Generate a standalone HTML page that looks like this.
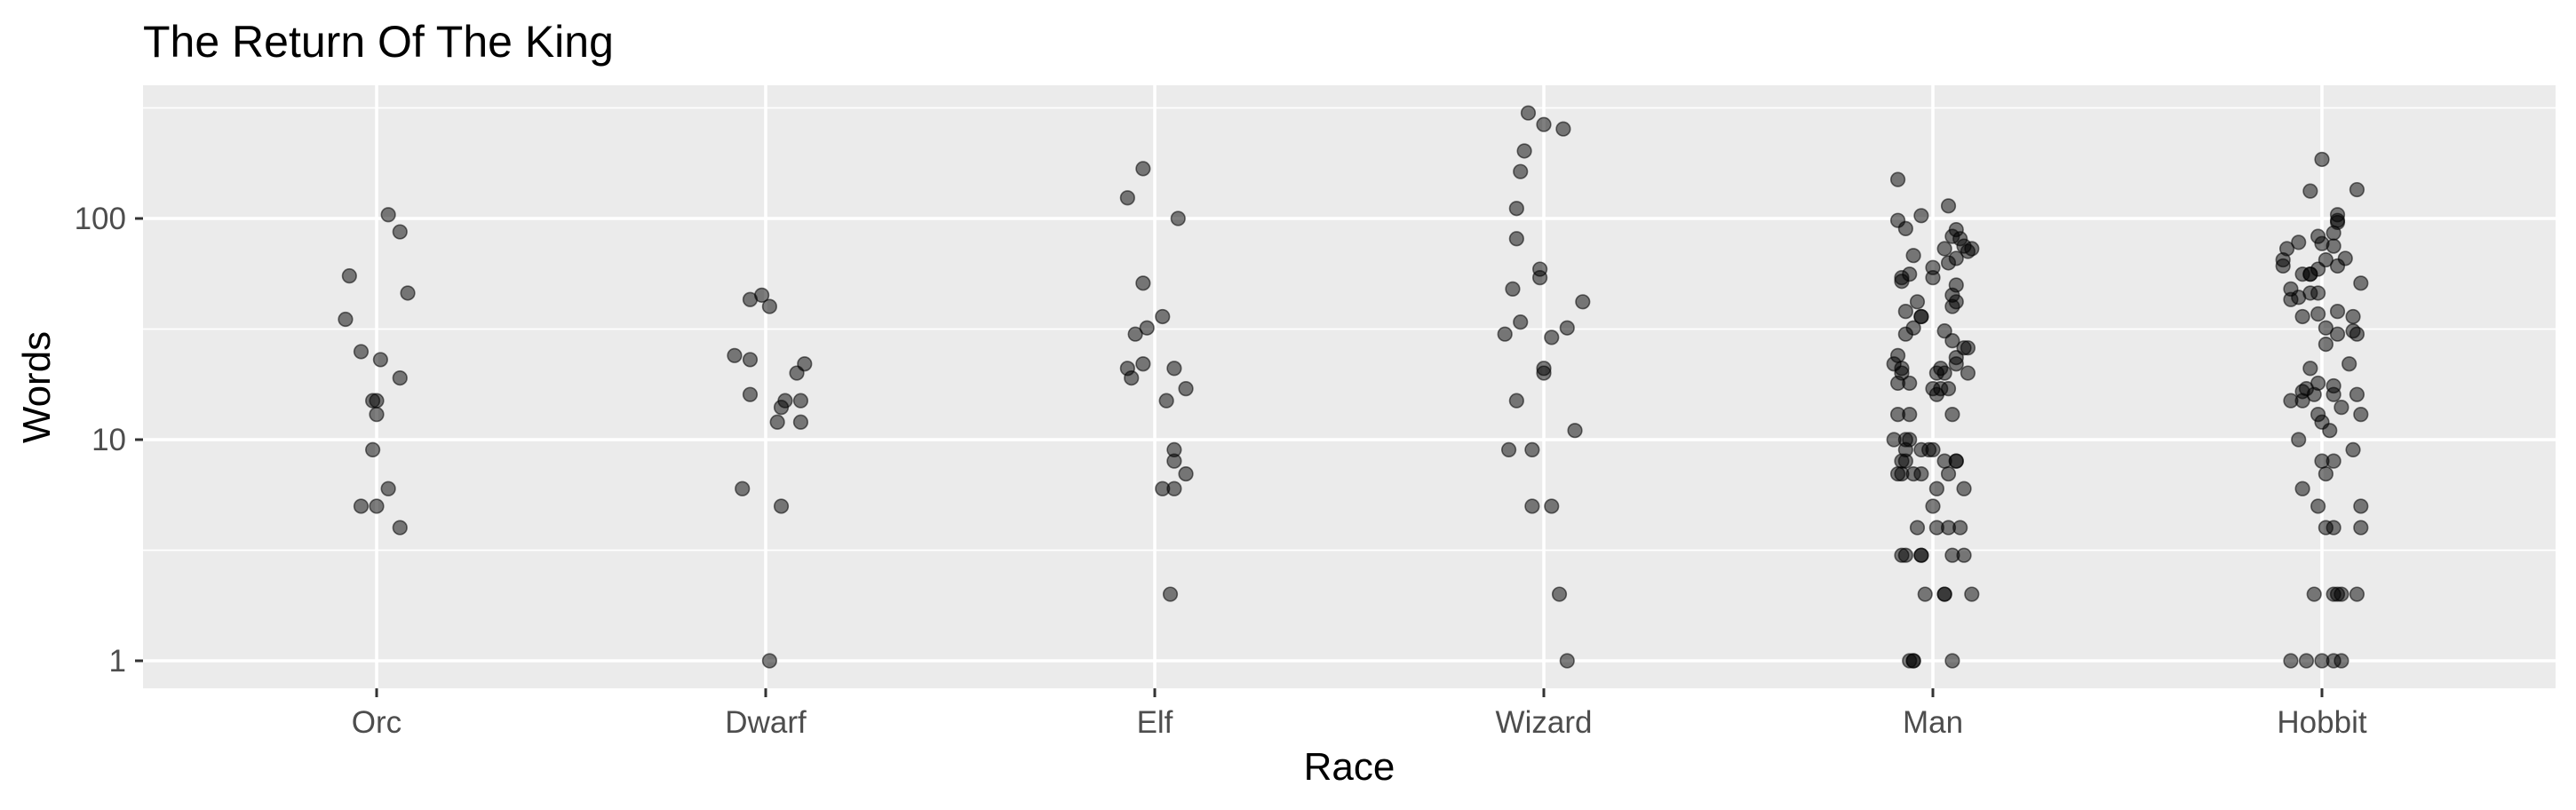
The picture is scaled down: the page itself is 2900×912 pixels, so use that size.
<!DOCTYPE html>
<html><head><meta charset="utf-8"><style>
html,body{margin:0;padding:0;background:#fff;}
svg{display:block;font-family:"Liberation Sans",Arial,sans-serif;}
</style></head><body>
<svg id="chart" width="2900" height="912" viewBox="0 0 2900 912">
<text x="161" y="64" font-size="50" fill="#000">The Return Of The King</text>
<rect x="161" y="96" width="2716" height="679" fill="#EBEBEB"/>
<g id="grid"></g>
<g id="points"></g>
<g id="axes"></g>
<text x="1519" y="878" font-size="44" text-anchor="middle" fill="#000">Race</text>
<text transform="translate(56,436) rotate(-90)" font-size="44" text-anchor="middle" fill="#000">Words</text>
</svg>
<script>
const categories = ["Orc","Dwarf","Elf","Wizard","Man","Hobbit"];
const yTicks = [1,10,100];
const yTickLabels = ["1","10","100"];
const orcWords = [104,87,55,46,35,25,23,19,15,15,13,9,6,5,5,4];
const orcJitter = [3,6,-7,8,-8,-4,1,6,-1,0,0,-1,3,-4,0,6];
const dwarfWords = [45,43,40,24,23,22,20,16,15,15,14,12,12,6,5,1];
const dwarfJitter = [-1,-4,1,-8,-4,10,8,-4,5,9,4,3,9,-6,4,1];
const elfWords = [168,124,100,51,36,32,30,22,21,21,19,17,15,9,8,7,6,6,2];
const elfJitter = [-3,-7,6,-3,2,-2,-5,-3,-7,5,-6,8,3,5,5,8,2,5,4];
const wizardWords = [300,266,254,202,163,111,81,59,54,48,42,34,32,30,29,21,20,15,11,9,9,5,5,2,1];
const wizardJitter = [-4,0,5,-5,-6,-7,-7,-1,-1,-8,10,-6,6,-10,2,0,0,-7,8,-9,-3,-3,2,4,6];
const manWords = [150,114,103,98,90,89,83,81,75,73,71,73,68,66,63,60,56,54,52,54,50,45,42,40,42,38,36,36,32,30,31,28,26,26,24,22,23.5,22,21,20,20,21,20,20,18,18,16,17,17,17,13,13,13,10,10,10,9,9,9,9,8,8,8,8,8,7,7,7,7,7,6,6,5,4,4,4,4,3,3,3,3,3,3,2,2,2,2,1,1,1,1];
const manJitter = [-9,4,-3,-9,-7,6,5,7,8,10,9,3,-5,6,4,0,-6,-8,-8,0,6,5,6,5,-4,-7,-3,-3,-5,-7,3,5,8,9,-9,-10,6,6,-8,-8,9,2,1,3,-9,-6,1,2,4,0,-9,-6,5,-10,-7,-6,-7,-3,-1,0,-8,-7,3,6,6,-9,-8,-5,-3,4,1,8,0,-4,1,4,7,-8,-7,-3,-3,5,8,-2,3,3,10,-6,-5,-5,5];
const hobbitWords = [185,133,135,104,98,96,86,83,77,75,78,73,65,61,65,66,61,59,56,56,56,51,48,43,44,46,46,36,37,38,36,32,30,31,30,27,22,21,18,17,17.5,16.5,16,16,16,15,15,14,13,13,12,11,10,9,8,8,7,6,5,5,4,4,4,2,2,2,2,2,1,1,1,1,1];
const hobbitJitter = [0,-3,9,4,4,4,3,-1,0,3,-6,-9,-10,-10,1,6,4,-1,-5,-3,-3,10,-8,-8,-6,-3,-1,-5,-1,4,8,1,4,8,9,1,7,-3,-1,-4,3,-5,-2,3,9,-8,-5,5,-1,10,0,2,-6,8,0,3,1,-5,-1,10,1,3,10,-2,3,4,5,9,-8,-4,0,3,5];

const groupWords = [orcWords,dwarfWords,elfWords,wizardWords,manWords,hobbitWords];
const groupJitter = [orcJitter,dwarfJitter,elfJitter,wizardJitter,manJitter,hobbitJitter];

const NS = "http://www.w3.org/2000/svg";
const PL = 161, PR = 2877, PT = 96, PB = 775;
const X0 = 424, BAND = 438;
function xScale(i){ return X0 + i*BAND; }
function yScale(v){ return 744 - Math.log10(v)*249; }
function mk(tag, attrs, parent){ const e=document.createElementNS(NS,tag); for(const k in attrs) e.setAttribute(k,attrs[k]); parent.appendChild(e); return e; }

const grid = document.getElementById('grid');
[0.5,1.5,2.5].forEach(p=>{
  const y = yScale(Math.pow(10,p));
  const l = mk('line',{x1:PL,x2:PR,y1:y,y2:y,stroke:'#fff','stroke-width':1.8},grid);
  
  
});
yTicks.forEach(v=>{
  const y = yScale(v);
  const l = mk('line',{x1:PL,x2:PR,y1:y,y2:y,stroke:'#fff','stroke-width':3.6},grid);
  
  
});
categories.forEach((c,i)=>{
  const x = xScale(i);
  const l = mk('line',{x1:x,x2:x,y1:PT,y2:PB,stroke:'#fff','stroke-width':3.6},grid);
  
  
});

const pts = document.getElementById('points');
groupWords.forEach((arr,gi)=>{
  arr.forEach((v,j)=>{
    const cx = xScale(gi) + groupJitter[gi][j]/100*BAND;
    const c = mk('circle',{cx:cx,cy:yScale(v),r:7.8,fill:'rgba(0,0,0,0.5)',stroke:'rgba(0,0,0,0.55)','stroke-width':1.6},pts);
    
    
  });
});

const axes = document.getElementById('axes');
yTicks.forEach((v,i)=>{
  const y = yScale(v);
  const t = mk('line',{x1:152,x2:161,y1:y,y2:y,stroke:'#333','stroke-width':3},axes);
  
  
  const lb = mk('text',{x:142,y:y+12,'font-size':35,'text-anchor':'end',fill:'#4D4D4D'},axes);
  lb.textContent = yTickLabels[i];
  
  
});
categories.forEach((c,i)=>{
  const x = xScale(i);
  const t = mk('line',{x1:x,x2:x,y1:PB,y2:PB+10,stroke:'#333','stroke-width':3},axes);
  
  
  const lb = mk('text',{x:x,y:825,'font-size':35,'text-anchor':'middle',fill:'#4D4D4D'},axes);
  lb.textContent = c;
  
  
});
</script>
</body></html>
